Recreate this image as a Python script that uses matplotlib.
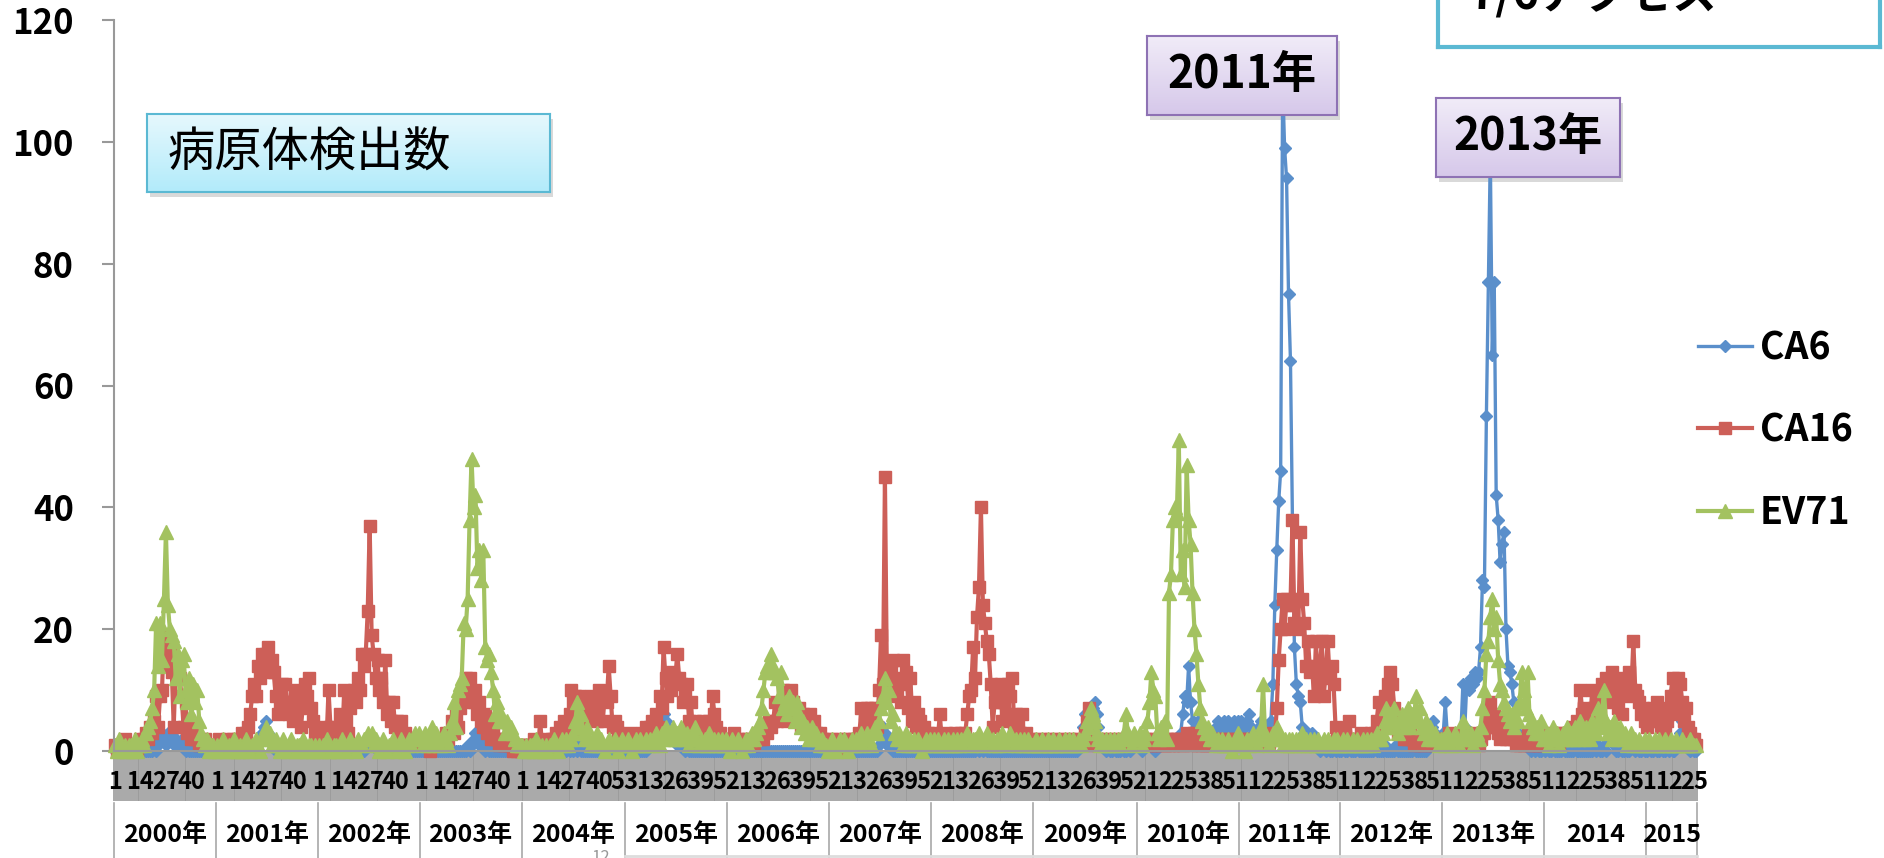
import numpy as np
import matplotlib.pyplot as plt
from matplotlib.colors import LinearSegmentedColormap
from matplotlib.patches import Rectangle
from matplotlib.lines import Line2D
from matplotlib.transforms import blended_transform_factory

plt.rcParams['font.family'] = ['Noto Sans CJK JP', 'DejaVu Sans']

# ---------------- data (weekly counts) ----------------
years = ["2000年", "2001年", "2002年", "2003年", "2004年", "2005年", "2006年", "2007年",
         "2008年", "2009年", "2010年", "2011年", "2012年", "2013年", "2014", "2015"]
weeks_per_year = [52, 52, 52, 52, 53, 52, 52, 52, 52, 53, 52, 52, 52, 52, 52, 26]

ca6 = [
    # 2000
    0,0,0,0,0,0,0,0,0,0,0,0,0, 0,0,0,0,0,0,0,1,0,1,2,3,2, 1,3,2,3,1,2,1,1,2,1,0,1,0, 0,0,0,0,0,0,0,0,0,0,0,0,0,
    # 2001
    0,0,0,0,0,0,0,0,0,0,0,0,0, 0,0,0,0,0,0,0,1,1,2,3,4,5, 3,2,1,1,0,1,0,0,0,0,0,0,0, 0,0,0,0,0,0,0,0,0,0,0,0,0,
    # 2002
    0,0,0,0,0,0,0,0,0,0,0,0,0, 0,0,0,0,0,0,0,0,0,0,0,1,2, 2,1,2,1,0,1,0,0,0,0,0,0,0, 0,0,0,0,0,0,0,0,0,0,0,0,0,
    # 2003
    0,0,0,0,0,0,0,0,0,0,0,0,0, 0,0,0,0,0,0,0,0,0,0,0,1,0, 1,2,3,2,1,2,1,0,1,0,0,0,0, 0,0,0,0,0,0,0,0,0,0,0,0,0,
    # 2004
    0,0,0,0,0,0,0,0,0,0,0,0,0, 0,0,0,0,0,0,0,0,0,0,1,0,1, 0,1,0,1,0,0,0,0,0,0,0,0,0, 0,0,0,0,0,0,0,0,0,0,0,0,0,0,
    # 2005
    0,0,0,0,0,0,0,0,0,0,0,1,2, 3,4,6,5,3,4,6,5,4,3,2,3,2, 1,2,1,1,0,1,0,0,0,0,0,0,0, 0,0,0,0,0,0,0,0,0,0,0,0,0,
    # 2006
    0,0,1,0,0,0,0,0,0,0,0,0,0, 0,0,0,0,0,0,0,0,0,0,0,0,0, 0,0,0,0,0,0,0,0,0,0,0,0,0, 0,0,0,0,0,0,0,0,0,0,0,0,0,
    # 2007
    0,0,0,0,0,0,0,0,0,0,0,0,0, 0,0,0,0,0,0,0,0,0,0,0,0,1, 2,4,3,1,2,1,0,0,0,0,0,0,0, 0,0,0,0,0,0,0,0,0,0,0,0,0,
    # 2008
    0,0,0,0,0,0,0,0,0,0,0,0,0, 0,0,0,0,0,0,0,0,0,0,1,0,1, 0,1,0,0,0,0,0,0,0,0,0,0,0, 0,0,0,0,0,0,0,0,0,0,0,0,0,
    # 2009
    0,0,0,0,0,0,0,0,0,0,0,0,0, 0,0,0,0,0,0,0,0,0,0,1,2,4, 6,5,3,6,7,8,6,4,2,1,1,0,1, 0,0,1,0,0,0,1,0,0,1,0,1,2,1,
    # 2010
    1,2,0,1,2,1,1,2,1,0,1,2,1, 1,2,1,2,1,1,2,1,2,3,6,9,8, 14,8,5,3,4,5,3,2,3,2,3,2,3, 3,4,5,3,4,5,4,5,3,4,5,4,5,
    # 2011
    4,5,3,4,5,6,4,3,2,3,4,5,3, 2,4,4,5,11,24,33,41,46,110,99,94,75, 64,38,17,11,9,8,4,3,2,3,2,3,1, 2,1,0,1,1,0,1,0,0,1,0,1,0,
    # 2012
    0,1,0,0,1,0,0,0,1,0,0,0,0, 0,0,0,0,1,0,0,0,0,1,0,0,0, 0,0,1,0,0,0,0,0,0,0,0,1,0, 0,0,0,0,0,1,2,4,5,3,2,1,2,
    # 2013
    3,8,3,2,1,2,1,2,1,3,11,4,11, 10,12,11,13,12,13,17,28,27,55,77,98,65, 77,42,38,31,34,36,20,14,13,11,8,4,3, 2,2,1,2,1,1,0,1,0,1,0,0,1,
    # 2014
    0,1,0,0,1,0,0,0,0,1,0,0,0, 0,0,1,0,0,0,0,0,0,0,0,0,1, 0,1,0,0,1,0,2,3,2,1,0,0,1, 0,0,1,0,0,2,1,0,1,0,0,1,0,
    # 2015
    0,1,0,0,1,0,0,1,0,0,1,0,1, 0,0,1,2,3,5,3,2,1,0,1,0,0,
]

ca16 = [
    # 2000
    1,0,1,1,0,2,1,1,0,1,1,0,1, 2,1,2,3,2,4,3,5,9,4,9,10,19, 15,14,17,13,4,14,15,12,9,4,8,3,5, 2,3,2,2,1,2,1,2,1,1,0,1,1,
    # 2001
    1,2,1,0,1,2,1,1,2,1,1,2,1, 3,2,3,4,6,9,11,9,14,12,16,15,16, 17,13,15,13,9,6,8,11,7,11,8,6,8, 5,9,10,7,4,8,11,9,12,7,5,3,2,
    # 2002
    3,2,4,3,2,10,4,3,2,4,3,6,2, 10,5,3,7,9,10,8,12,10,16,14,16,23, 37,19,16,12,15,10,12,8,15,6,8,5,8, 4,5,3,5,2,3,2,2,1,2,1,1,2,
    # 2003
    2,1,2,1,1,0,1,2,1,1,2,1,2, 3,2,3,5,3,6,4,7,9,8,12,10,12, 9,8,10,6,8,5,4,6,3,4,2,3,2, 2,1,2,1,1,2,1,1,0,1,0,1,0,
    # 2004
    1,0,1,1,0,1,2,1,0,5,1,2,1, 0,1,2,2,3,2,4,3,5,4,3,6,10, 8,9,6,9,3,8,5,7,6,9,8,6,5, 10,9,5,9,8,14,9,4,5,4,3,2,2,1,
    # 2005
    2,1,3,2,1,2,1,2,3,2,4,3,4, 5,3,6,4,9,7,17,12,9,13,10,12,12, 16,12,11,8,9,11,5,8,3,5,4,3,2, 5,3,3,5,4,9,6,4,2,3,2,1,2,
    # 2006
    2,1,2,3,1,2,1,2,1,1,2,1,2, 1,2,3,2,3,2,4,3,5,4,5,8,5, 7,6,10,8,5,7,10,8,6,5,7,4,6, 5,3,4,6,2,5,3,2,3,2,1,2,1,
    # 2007
    1,2,1,1,2,1,0,1,2,1,2,1,2, 1,2,3,7,2,6,7,4,7,5,7,4,10, 19,11,45,12,10,13,15,11,9,12,8,15,11, 13,7,12,5,8,4,6,5,3,4,2,3,2,
    # 2008
    2,1,3,2,6,2,1,3,2,1,2,1,3, 2,1,3,2,3,6,9,10,17,12,22,27,40, 24,21,18,16,11,4,8,10,8,11,5,8,6, 11,9,12,4,6,5,3,6,2,3,1,2,1,
    # 2009
    2,1,1,2,1,1,2,1,1,2,1,1,2, 1,1,2,1,1,2,1,1,2,1,2,1,1, 3,5,7,4,2,1,2,1,1,2,1,1,2, 1,1,2,1,1,2,1,2,1,1,2,1,1,2,
    # 2010
    1,2,1,1,2,1,2,1,1,2,1,2,1, 2,1,2,1,2,1,2,2,1,2,1,2,3, 2,1,2,3,2,1,2,1,2,1,2,1,2, 1,2,1,2,1,1,2,1,2,1,2,1,2,
    # 2011
    2,1,2,1,1,2,1,2,1,1,2,1,2, 1,2,1,2,3,2,7,15,20,25,20,25,24, 24,38,21,25,20,36,25,21,14,18,13,14,9, 18,11,14,18,9,13,18,12,14,11,4,3,2,
    # 2012
    2,3,2,1,5,2,1,2,1,2,3,2,1, 2,1,3,2,3,5,8,4,6,9,7,11,13, 11,7,4,3,5,3,2,4,2,3,2,1,2, 2,1,2,1,2,3,2,1,2,1,2,1,2,
    # 2013
    1,2,1,3,2,1,2,1,2,3,1,2,1, 2,1,2,3,2,1,2,3,3,4,6,8,5, 6,4,3,2,5,3,2,4,2,3,2,1,2, 1,2,1,2,3,1,2,1,2,1,1,2,1,
    # 2014
    2,1,3,2,1,2,3,1,2,3,2,2,3, 2,4,3,5,4,10,6,7,4,6,5,10,7, 4,9,6,11,8,12,9,10,13,11,8,7,10, 6,12,9,11,13,10,18,10,9,8,6,7,5,
    # 2015
    4,6,5,7,6,8,5,4,6,3,5,7,9, 12,9,6,12,11,8,5,7,4,3,2,2,1,
]

ev71 = [
    # 2000
    1,0,2,1,0,1,0,1,1,0,2,0,1, 1,2,1,3,4,5,7,10,21,14,21,15,25, 36,24,20,19,18,12,16,9,15,16,10,8,12, 6,11,8,10,5,3,2,1,2,0,1,1,0,
    # 2001
    1,0,1,2,1,0,1,1,0,2,1,0,1, 0,1,2,1,0,1,1,2,1,0,2,3,4, 2,3,1,1,2,1,0,1,2,1,0,1,2, 1,0,1,1,0,2,1,0,1,1,0,1,0,
    # 2002
    1,0,1,1,2,0,1,0,1,1,0,1,2, 1,0,1,2,1,1,0,2,1,1,2,2,3, 2,3,1,2,1,0,1,2,1,0,1,1,2, 1,0,1,2,1,0,1,2,1,2,3,2,3,
    # 2003
    2,1,3,2,1,2,4,1,3,2,1,2,3, 2,1,3,5,8,4,10,11,12,21,20,25,38, 48,40,42,30,33,28,33,17,15,16,13,10,6, 8,5,6,5,3,5,4,4,3,2,1,1,1,
    # 2004
    1,0,1,0,1,1,0,2,1,0,1,0,1, 0,1,1,2,1,0,1,2,1,2,1,2,2, 3,5,8,4,6,3,2,4,2,1,2,1,3, 1,2,1,0,1,2,1,1,2,1,0,1,2,1,
    # 2005
    1,2,1,0,1,2,1,2,1,1,2,1,2, 1,2,3,2,1,3,2,4,3,2,3,4,2, 3,2,4,3,2,3,1,2,3,4,2,1,2, 1,2,1,3,2,1,2,1,2,1,2,1,2,
    # 2006
    1,0,2,1,1,2,1,0,1,2,1,2,3, 2,3,4,5,7,10,13,14,13,16,14,13,12, 9,13,7,8,6,9,7,8,5,8,6,4,5, 3,4,2,3,4,2,3,2,1,2,1,1,0,
    # 2007
    1,2,1,0,1,2,1,2,1,0,1,2,1, 2,1,2,3,1,2,3,2,1,3,4,3,5, 7,9,12,8,10,5,6,3,2,3,2,1,2, 3,1,2,1,2,1,2,1,0,1,2,1,2,
    # 2008
    1,2,1,2,1,1,2,1,2,1,1,2,1, 2,1,2,1,2,3,2,1,2,2,1,3,2, 1,2,3,2,1,2,1,2,1,2,3,2,1, 2,3,2,1,2,1,2,1,2,1,2,1,1,
    # 2009
    1,2,1,1,2,1,1,2,1,1,2,1,1, 2,1,1,2,1,2,1,2,1,1,2,1,2, 3,5,4,7,6,5,3,2,1,2,1,2,1, 2,1,2,1,2,1,2,3,6,3,2,1,3,2,
    # 2010
    2,3,1,2,3,5,8,13,10,9,3,2,4, 3,5,2,26,29,38,40,39,51,29,33,27,47, 38,34,26,20,16,11,7,5,4,3,4,2,3, 2,1,2,1,2,1,1,2,1,0,1,2,3,
    # 2011
    1,2,1,0,2,1,2,3,2,1,2,4,11, 3,2,1,2,3,2,4,3,2,1,2,1,2, 1,2,1,2,1,2,3,1,2,1,2,1,2, 1,2,1,1,2,1,2,1,1,2,1,2,1,
    # 2012
    1,2,1,2,1,1,2,1,2,1,1,2,1, 2,1,2,1,2,3,2,2,3,5,7,4,6, 5,7,4,3,5,6,4,5,7,4,6,5,9, 5,7,4,3,5,2,4,3,2,3,2,1,2,
    # 2013
    2,1,3,2,1,2,3,2,1,2,5,2,3, 2,3,1,2,3,2,4,7,10,16,18,22,25, 20,22,15,11,10,8,7,6,5,6,4,7,5, 8,13,10,7,13,6,5,4,3,4,3,5,2,
    # 2014
    2,3,1,2,4,2,3,1,2,3,2,4,2, 3,2,4,3,2,5,3,2,4,3,2,5,4, 3,7,4,6,10,5,3,4,2,5,3,2,4, 3,2,3,1,2,3,1,2,1,2,1,1,2,
    # 2015
    1,2,1,1,2,1,2,1,1,2,1,1,2, 1,1,2,1,1,2,1,1,1,2,1,1,1,
]

n_weeks = sum(weeks_per_year)
assert len(ca6) == n_weeks and len(ca16) == n_weeks and len(ev71) == n_weeks

# week number of every category and first index of every year
week_no = [w for n in weeks_per_year for w in range(1, n + 1)]
year_start = np.concatenate([[0], np.cumsum(weeks_per_year)[:-1]])

# ---------------- figure ----------------
W, H = 1884, 858
fig = plt.figure(figsize=(W / 100, H / 100), dpi=100)


def fx(px):
    return px / W


def fy(py):
    return 1 - py / H


ax = fig.add_axes([fx(114), fy(751), fx(1697) - fx(114), fy(20) - fy(751)])
ax.set_facecolor("none")
x = np.arange(n_weeks)

ax.plot(x, ca6, color="#5A8FCB", lw=2.4, marker="D", ms=6, mec="#5A8FCB", clip_on=False, label="CA6")
ax.plot(x, ca16, color="#CD5F58", lw=3.0, marker="s", ms=8, mec="#CD5F58", clip_on=False, label="CA16")
ax.plot(x, ev71, color="#A3C260", lw=3.0, marker="^", ms=9.5, mec="#A3C260", clip_on=False, label="EV71")

ax.set_xlim(-0.5, n_weeks - 0.5)
ax.set_ylim(0, 120)
ax.set_yticks(range(0, 121, 20))
ax.tick_params(axis="y", length=9, width=1.5, color="#999999", pad=20, labelsize=25)
for lab in ax.get_yticklabels():
    lab.set_fontweight("bold")

for s in ["top", "right"]:
    ax.spines[s].set_visible(False)
ax.spines["left"].set_color("#999999")
ax.spines["left"].set_linewidth(1.5)
ax.spines["bottom"].set_color("#999999")
ax.spines["bottom"].set_linewidth(1.5)

# dense weekly tick marks -> grey band under the axis
ax.set_xticks([])
ax.set_xticks(np.arange(-0.5, n_weeks, 1), minor=True)
ax.tick_params(axis="x", which="minor", length=36, width=1.2, color="#9a9a9a", direction="out")

trans = blended_transform_factory(ax.transData, ax.transAxes)
for i in range(0, n_weeks, 13):
    ax.text(i, -0.0424, str(week_no[i]), transform=trans, ha="center", va="center",
            fontsize=17, fontweight="bold", zorder=5, clip_on=False)

for s0, n, yr in zip(year_start, weeks_per_year, years):
    ax.text(s0 + n / 2 - 0.5, -0.115, yr, transform=trans, ha="center", va="center",
            fontsize=18, fontweight="bold", clip_on=False)
for b in list(year_start) + [n_weeks]:
    ax.plot([b - 0.5, b - 0.5], [-0.071, -0.16], transform=trans, color="#a8a8a8", lw=1.2, clip_on=False)

ax.legend(loc="center left", bbox_to_anchor=(fx(1698), fy(430)), bbox_transform=fig.transFigure,
          frameon=False, prop=dict(weight="bold", size=27), handlelength=1.45, handletextpad=0.2,
          labelspacing=1.15, borderpad=0, borderaxespad=0)


# ---------------- call-out boxes ----------------
def note_box(x0, y0, x1, y1, c_top, c_bottom, edge, lw, shadow=True):
    if shadow:
        fig.add_artist(Rectangle((fx(x0 + 3), fy(y1 + 5)), fx(x1 - x0), (y1 - y0) / H,
                                 transform=fig.transFigure, color="black", alpha=0.15, lw=0, zorder=-1))
    bax = fig.add_axes([fx(x0), fy(y1), fx(x1 - x0), (y1 - y0) / H])
    cmap = LinearSegmentedColormap.from_list("g", [c_top, c_bottom])
    bax.imshow(np.linspace(0, 1, 64)[:, None], aspect="auto", cmap=cmap, extent=[0, 1, 0, 1])
    bax.set_xticks([])
    bax.set_yticks([])
    for s in bax.spines.values():
        s.set_color(edge)
        s.set_linewidth(lw)
    return bax


b = note_box(147, 114, 550, 192, "#E6F8FD", "#B2EBFA", "#5BB9D3", 1.5)
b.text(0.052, 0.5, "病原体検出数", transform=b.transAxes, ha="left", va="center", fontsize=34)

b = note_box(1147, 36, 1337, 115, "#F1ECF8", "#D6C8EA", "#8E72B4", 1.5)
b.text(0.5, 0.5, "2011年", transform=b.transAxes, ha="center", va="center", fontsize=32, fontweight="bold")

b = note_box(1436, 98, 1620, 177, "#F1ECF8", "#D6C8EA", "#8E72B4", 1.5)
b.text(0.5, 0.5, "2013年", transform=b.transAxes, ha="center", va="center", fontsize=32, fontweight="bold")

# the box at the top right runs off the slide, as in the source
note_box(1438, -60, 1880, 47, "#FFFFFF", "#FFFFFF", "#5BB9D3", 3, shadow=False)
fig.text(fx(1470), fy(9), "7/6アクセス", ha="left", va="baseline", fontsize=32, fontweight="bold")

# slide leftovers at the bottom edge
fig.text(fx(601), fy(849), "12", ha="center", va="top", fontsize=12, color="#999999")
fig.add_artist(Line2D([fx(625), fx(1697)], [fy(856), fy(856)], color="#dddddd", lw=2))

fig.savefig("out.png", dpi=100)
